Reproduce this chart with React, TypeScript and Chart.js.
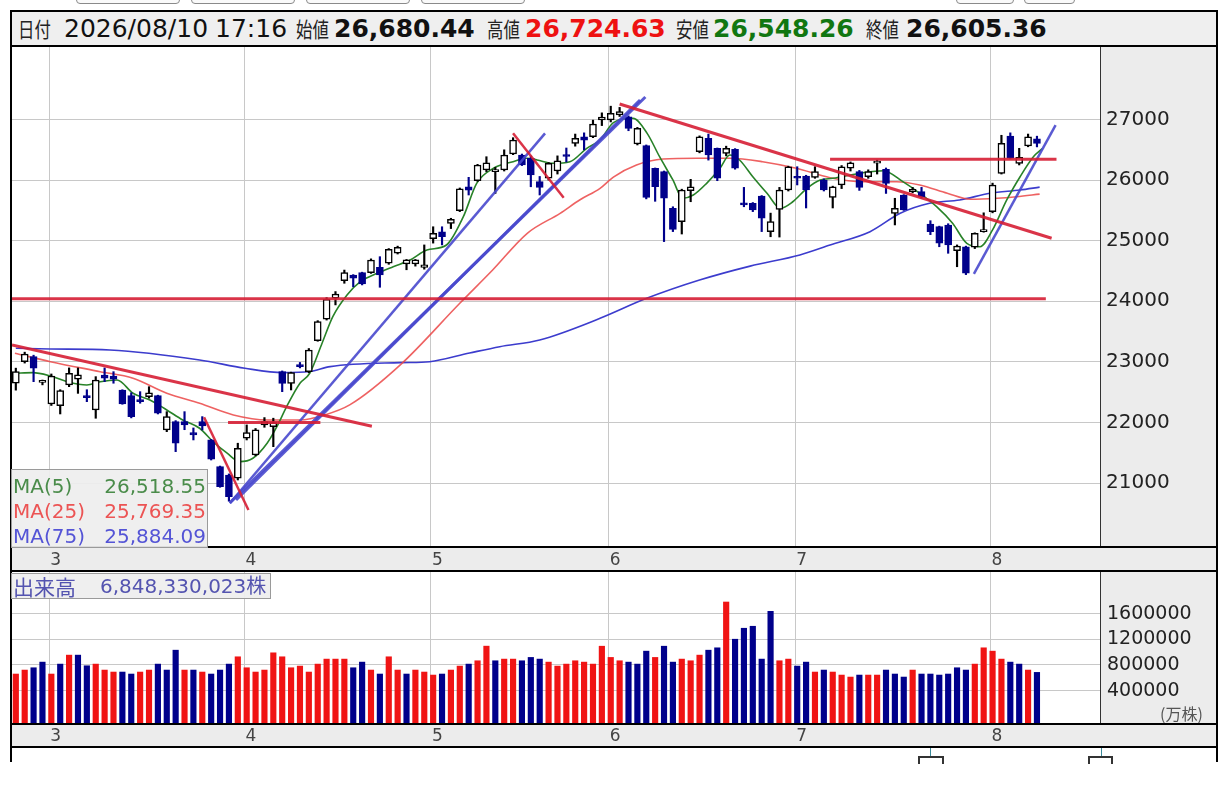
import React, { useEffect, useRef } from "react";
import { Chart, registerables } from "chart.js";

Chart.register(...registerables);

// ---------- data ----------
const OPEN = [22647, 23003, 23086, 22660, 22305, 22277, 22619, 22713, 22440, 22206, 22780, 22767, 22536, 22442, 22376, 22426, 22442, 21876, 22013, 22013, 21832, 22013, 21711, 21270, 21130, 21079, 21739, 21464, 21958, 21930, 22838, 22646, 22940, 22838, 23350, 23703, 24050, 24340, 24434, 24472, 24472, 24561, 24627, 24792, 24615, 24615, 24560, 25033, 25145, 25287, 25495, 25890, 25990, 26167, 26140, 26167, 26431, 26414, 26360, 25974, 26030, 26150, 26420, 26607, 26716, 26716, 26992, 26992, 27075, 27046, 26596, 26568, 26195, 26140, 25535, 25314, 25825, 26469, 26690, 26525, 26442, 26508, 25610, 25617, 25738, 25150, 25518, 25837, 26050, 26068, 26046, 26002, 25716, 25919, 26195, 26140, 26056, 26280, 26178, 25452, 25754, 25810, 25810, 25275, 25231, 25259, 24836, 24900, 24891, 25150, 25479, 26112, 26727, 26277, 26563, 26680];
const HIGH = [22896, 23160, 23110, 22700, 22800, 22540, 22900, 22900, 22540, 22756, 22900, 22838, 22540, 22490, 22508, 22590, 22450, 22178, 22030, 22178, 21909, 22096, 21720, 21280, 21150, 21657, 21959, 21900, 22080, 22070, 22850, 22830, 22990, 23220, 23680, 24060, 24160, 24515, 24440, 24480, 24700, 24736, 24870, 24910, 24690, 24690, 24930, 25230, 25230, 25370, 25870, 26046, 26260, 26386, 26210, 26500, 26700, 26430, 26400, 26060, 26290, 26400, 26530, 26760, 26780, 26990, 27110, 27220, 27200, 27060, 26870, 26580, 26200, 26150, 25560, 25850, 26013, 26730, 26760, 26530, 26560, 26520, 25880, 25630, 25745, 25455, 25880, 26230, 26221, 26080, 26221, 26020, 25900, 26240, 26300, 26160, 26170, 26330, 26200, 25700, 25760, 25880, 25880, 25330, 25240, 25280, 24930, 24910, 25130, 25460, 25950, 26740, 26780, 26525, 26760, 26725];
const LOW = [22533, 22980, 22673, 22620, 22280, 22140, 22590, 22480, 22343, 22069, 22673, 22647, 22300, 22075, 22317, 22400, 22140, 21848, 21518, 21880, 21711, 21876, 21380, 20930, 20700, 21050, 21711, 21450, 21920, 21600, 22508, 22536, 22900, 22820, 23340, 23690, 23940, 24297, 24240, 24270, 24460, 24231, 24610, 24780, 24520, 24580, 24530, 24960, 24930, 25200, 25480, 25754, 25980, 26140, 25780, 26150, 26420, 26240, 25890, 25754, 26000, 26100, 26300, 26560, 26500, 26700, 26900, 26960, 27050, 26815, 26580, 25690, 25650, 24985, 25150, 25110, 25643, 26450, 26330, 25990, 26400, 26180, 25560, 25480, 25150, 25065, 25060, 25820, 25920, 25540, 26030, 25820, 25540, 25860, 26150, 25830, 26030, 26100, 25780, 25260, 25500, 25790, 25700, 25100, 24900, 24792, 24570, 24440, 24870, 25140, 25460, 26100, 26350, 26250, 26550, 26548];
const CLOSE = [22838, 23130, 22894, 22680, 22767, 22525, 22812, 22784, 22410, 22701, 22730, 22713, 22305, 22096, 22343, 22490, 22152, 22096, 21657, 21958, 21793, 21942, 21393, 20940, 20775, 21574, 21832, 21876, 22013, 21997, 22646, 22822, 22920, 23196, 23663, 24033, 24120, 24472, 24380, 24285, 24681, 24434, 24858, 24891, 24682, 24682, 24600, 25122, 25065, 25353, 25858, 25835, 26249, 26287, 26150, 26414, 26662, 26249, 26084, 25880, 26277, 26320, 26390, 26690, 26660, 26926, 27040, 27102, 27130, 26855, 26855, 25716, 25890, 25700, 25188, 25837, 25890, 26716, 26414, 26030, 26525, 26195, 25590, 25507, 25370, 25315, 25837, 26221, 26030, 25837, 26140, 25837, 25890, 26221, 26287, 25880, 26140, 26300, 25947, 25535, 25507, 25848, 25726, 25149, 24957, 24929, 24913, 24462, 25122, 25170, 25919, 26607, 26360, 26376, 26716, 26605];

// volume in 万株
const VOLUME = [659000, 721000, 757000, 845000, 659000, 814000, 954000, 954000, 788000, 814000, 721000, 690000, 690000, 659000, 690000, 721000, 814000, 721000, 1031000, 721000, 721000, 690000, 659000, 721000, 814000, 928000, 757000, 690000, 721000, 990000, 928000, 757000, 783000, 690000, 814000, 892000, 892000, 892000, 757000, 845000, 721000, 659000, 928000, 721000, 659000, 721000, 690000, 643000, 659000, 721000, 783000, 814000, 866000, 1094000, 866000, 892000, 892000, 866000, 918000, 892000, 845000, 783000, 814000, 866000, 845000, 814000, 1093000, 918000, 866000, 845000, 814000, 1016000, 918000, 1093000, 845000, 892000, 866000, 954000, 1031000, 1068000, 1782000, 1202000, 1373000, 1404000, 892000, 1637000, 866000, 892000, 783000, 845000, 690000, 721000, 690000, 643000, 612000, 643000, 643000, 643000, 721000, 659000, 612000, 721000, 659000, 659000, 643000, 659000, 757000, 721000, 814000, 1068000, 1016000, 892000, 845000, 814000, 721000, 684833];
// R = rising (red), B = falling (navy)
const VOLUME_DIR = ("RRBBRBRBBR" + "RRBBRRBBBR" + "BRBBBRRRRR" + "RRRRRRRRBB" + "RBRRBRRRBR" + "RBRRBRRBB" + "BRRRRRRRRR" + "BBBRBBRRRB" + "BRBBBBBRRB" + "BRBRRRBRRB" + "BBRBBBBBBR" + "RRRBBRB").split("");

const MONTH_START = [4, 26, 47, 67, 88, 110];
const MONTH_LABEL = ["3", "4", "5", "6", "7", "8"];
const PRICE_TICKS = [21000, 22000, 23000, 24000, 25000, 26000, 27000];
const VOLUME_TICKS = [400000, 800000, 1200000, 1600000];

const MA5_X = [-0.1, 1.9, 3.9, 5.8, 8.0, 9.5, 11.4, 13.2, 15.1, 17.0, 18.8, 20.7, 22.2, 23.8, 25.2, 26.7, 28.3, 29.4, 30.5, 32.0, 33.1, 34.5, 35.7, 37.3, 38.8, 40.7, 42.5, 44.4, 46.3, 48.5, 50.4, 51.9, 53.8, 56.0, 57.5, 58.7, 60.5, 62.4, 64.3, 65.8, 67.3, 69.5, 71.1, 72.5, 74.0, 75.1, 76.3, 77.8, 79.3, 80.4, 81.5, 83.0, 84.6, 86.1, 87.5, 89.1, 90.6, 92.0, 95.4, 97.7, 99.9, 101.8, 103.7, 105.5, 107.1, 108.6, 110.0, 111.6, 113.1, 114.6, 115.6];
const MA5_Y = [22812, 22822, 22767, 22673, 22619, 22673, 22701, 22482, 22371, 22206, 22041, 21904, 21683, 21492, 21353, 21409, 21657, 21930, 22261, 22647, 22812, 23312, 23746, 24104, 24324, 24462, 24571, 24681, 24846, 24929, 25396, 25947, 26195, 26304, 26360, 26332, 26277, 26304, 26525, 26662, 26950, 27020, 26772, 26386, 26002, 25700, 25754, 25947, 26195, 26414, 26332, 26056, 25782, 25535, 25643, 25865, 26002, 26030, 26122, 26155, 25974, 25782, 25561, 25287, 24957, 24901, 25177, 25672, 26056, 26386, 26519];
const MA25_X = [-0.1, 3.9, 9.5, 13.2, 17.0, 20.7, 24.5, 28.3, 32.0, 34.8, 37.6, 43.3, 50.0, 53.7, 57.6, 61.3, 63.5, 65.8, 67.3, 69.9, 72.9, 76.7, 80.4, 84.1, 87.9, 91.7, 95.4, 99.2, 101.8, 104.9, 107.5, 110.5, 112.7, 115.3];
const MA25_Y = [23142, 23003, 22838, 22729, 22482, 22317, 22124, 22041, 22041, 22124, 22289, 22950, 23967, 24516, 25122, 25452, 25672, 25865, 26050, 26250, 26348, 26360, 26360, 26304, 26195, 26040, 25974, 25974, 25919, 25782, 25683, 25700, 25726, 25769];
const MA75_X = [0, 3.9, 10.6, 20.7, 25.8, 30.1, 33.1, 35.4, 43.3, 46.6, 51.1, 54.5, 59.0, 65.8, 70.9, 77.0, 82.7, 88.3, 91.7, 96.2, 99.6, 102.9, 106.3, 109.7, 113.1, 115.3];
const MA75_Y = [23224, 23213, 23196, 23031, 22894, 22822, 22840, 22921, 22987, 23003, 23146, 23250, 23361, 23719, 24040, 24350, 24580, 24765, 24929, 25149, 25452, 25617, 25672, 25782, 25837, 25884];

// drawn trend lines: [startIndex, startPrice, endIndex, endPrice]
const RED_LINES = [
  [-0.43, 24040, 116.0, 24040],
  [-0.43, 23279, 40.1, 21938],
  [23.9, 21997, 34.3, 21997],
  [21.2, 22086, 26.2, 20556],
  [56.0, 26772, 61.7, 25710],
  [68.0, 27256, 116.65, 25040],
  [91.7, 26343, 117.2, 26343],
];
const BLUE_LINES = [
  [24.1, 20667, 59.6, 26772],
  [24.1, 20672, 70.9, 27371],
  [24.8, 20721, 70.3, 27322],
  [107.9, 24451, 117.1, 26909],
];

// ---------- style ----------
const FONT = '"DejaVu Sans", "Noto Sans CJK JP", sans-serif';
const CJK = '"Noto Sans CJK JP", sans-serif';
const NAVY = "#00008b";
const VOL_RED = "#f01414";
const X_MIN = -0.43;
const X_MAX = 122.1;
const GRID = "#c8c8c8";

function framePlugin(id: string) {
  return {
    id,
    beforeDraw(chart: any) {
      const { ctx, chartArea: a, width, height } = chart;
      ctx.save();
      ctx.fillStyle = "#ececec";
      ctx.fillRect(0, 0, width, height);
      ctx.fillStyle = "#ffffff";
      ctx.fillRect(a.left, a.top, a.right - a.left, a.bottom - a.top);
      ctx.restore();
    },
    beforeDatasetsDraw(chart: any) {
      const { ctx, chartArea: a, scales } = chart;
      ctx.save();
      ctx.strokeStyle = GRID;
      ctx.lineWidth = 1;
      MONTH_START.forEach((m) => {
        const px = Math.round(scales.x.getPixelForValue(m - 0.3)) + 0.5;
        ctx.beginPath();
        ctx.moveTo(px, a.top);
        ctx.lineTo(px, a.bottom);
        ctx.stroke();
      });
      ctx.restore();
    },
    afterDraw(chart: any) {
      const { ctx, chartArea: a, width, height, scales } = chart;
      ctx.save();
      ctx.fillStyle = "#444";
      ctx.font = `17px ${FONT}`;
      ctx.textAlign = "center";
      ctx.textBaseline = "middle";
      const yMid = (a.bottom + height) / 2 + 1;
      MONTH_START.forEach((m, k) => {
        ctx.fillText(MONTH_LABEL[k], scales.x.getPixelForValue(m - 0.3) + 7, yMid);
      });
      ctx.fillStyle = "#000";
      ctx.fillRect(0, 0, 2, height);
      ctx.fillRect(width - 2, 0, 2, height);
      ctx.fillRect(0, a.bottom - 1, width, 2);
      ctx.fillRect(0, height - 2, width, 2);
      ctx.restore();
    },
  };
}

const xScale = {
  type: "linear" as const,
  min: X_MIN,
  max: X_MAX,
  offset: false,
  display: false,
};

const fitAxis = (s: any) => {
  s.width = 118;
  s.paddingTop = 0;
  s.paddingBottom = 0;
};

export default function App() {
  const mainRef = useRef<HTMLCanvasElement>(null);
  const volRef = useRef<HTMLCanvasElement>(null);

  useEffect(() => {
    const up = CLOSE.map((c, i) => c >= OPEN[i]);
    const trend = (lines: number[][], color: string, widths: number[]) =>
      lines.map((l, k) => ({
        type: "line" as const,
        data: [
          { x: l[0], y: l[1] },
          { x: l[2], y: l[3] },
        ],
        borderColor: color,
        borderWidth: widths[k] ?? 3,
        pointRadius: 0,
        tension: 0,
        order: 0,
      }));
    const maLine = (xs: number[], ys: number[], color: string) => ({
      type: "line" as const,
      data: xs.map((x, k) => ({ x, y: ys[k] })),
      borderColor: color,
      borderWidth: 1.6,
      pointRadius: 0,
      cubicInterpolationMode: "monotone" as const,
      order: 3,
    });

    const main = new Chart(mainRef.current!, {
      type: "bar",
      data: {
        datasets: [
          ...trend(RED_LINES, "rgba(214,30,52,0.9)", [3, 3, 3, 2.5, 2.5, 3, 3]),
          ...trend(BLUE_LINES, "rgba(72,72,205,0.9)", [2.5, 3, 3, 2.5]),
          {
            type: "bar",
            data: OPEN.map((o, i) => ({ x: i, y: [o, CLOSE[i]] })) as any,
            backgroundColor: up.map((u) => (u ? "#ffffff" : NAVY)),
            borderColor: up.map((u) => (u ? "#000000" : NAVY)),
            borderWidth: 1.5,
            borderSkipped: false,
            barThickness: 7,
            minBarLength: 2,
            grouped: false,
            order: 1,
          } as any,
          {
            type: "bar",
            data: LOW.map((l, i) => ({ x: i, y: [l, HIGH[i]] })) as any,
            backgroundColor: up.map((u) => (u ? "#000000" : NAVY)),
            borderWidth: 0,
            barThickness: 1.5,
            grouped: false,
            order: 2,
          } as any,
          maLine(MA5_X, MA5_Y, "rgb(40,130,40)"),
          maLine(MA25_X, MA25_Y, "rgba(235,70,70,0.85)"),
          maLine(MA75_X, MA75_Y, "rgb(60,60,205)"),
        ] as any,
      },
      options: {
        responsive: false,
        animation: false,
        events: [],
        layout: { padding: { left: 2, right: 0, top: 0, bottom: 25 } },
        plugins: { legend: { display: false }, tooltip: { enabled: false } },
        scales: {
          x: xScale,
          y: {
            type: "linear",
            position: "right",
            min: 19944,
            max: 28197,
            afterBuildTicks: (s: any) => {
              s.ticks = PRICE_TICKS.map((v) => ({ value: v }));
            },
            afterFit: fitAxis,
            grid: { color: GRID, lineWidth: 1, drawTicks: false },
            border: { display: true, color: "#333", width: 1 },
            ticks: {
              padding: 6,
              color: "#222",
              font: { family: FONT, size: 20 },
              callback: (v: any) => String(v),
            },
          },
        },
      },
      plugins: [framePlugin("mainFrame")],
    });

    const vol = new Chart(volRef.current!, {
      type: "bar",
      data: {
        datasets: [
          {
            data: VOLUME.map((v, i) => ({ x: i, y: v })) as any,
            backgroundColor: VOLUME_DIR.map((d) => (d === "R" ? VOL_RED : NAVY)),
            barThickness: 5.5,
            base: -120000,
            borderWidth: 0,
          } as any,
        ],
      },
      options: {
        responsive: false,
        animation: false,
        events: [],
        layout: { padding: { left: 2, right: 0, top: 0, bottom: 24 } },
        plugins: { legend: { display: false }, tooltip: { enabled: false } },
        scales: {
          x: xScale,
          y: {
            type: "linear",
            position: "right",
            min: -120000,
            max: 2250000,
            afterBuildTicks: (s: any) => {
              s.ticks = VOLUME_TICKS.map((v) => ({ value: v }));
            },
            afterFit: fitAxis,
            grid: { color: GRID, lineWidth: 1, drawTicks: false },
            border: { display: true, color: "#333", width: 1 },
            ticks: {
              padding: 7,
              color: "#222",
              font: { family: FONT, size: 19 },
              callback: (v: any) => String(v),
            },
          },
        },
      },
      plugins: [framePlugin("volFrame")],
    });

    return () => {
      main.destroy();
      vol.destroy();
    };
  }, []);

  const cjkLabel = (text: string, left: number) => (
    <span
      style={{
        position: "absolute",
        left,
        top: 0,
        lineHeight: "33px",
        fontFamily: CJK,
        fontSize: 21,
        color: "#222",
        transform: "scaleX(0.78)",
        transformOrigin: "left center",
        whiteSpace: "nowrap",
      }}
    >
      {text}
    </span>
  );
  const num = (text: string, left: number, color: string, bold: boolean) => (
    <span
      style={{
        position: "absolute",
        left,
        top: 0,
        lineHeight: "33px",
        fontFamily: FONT,
        fontSize: 25,
        fontWeight: bold ? 700 : 400,
        color,
        whiteSpace: "nowrap",
      }}
    >
      {text}
    </span>
  );
  const tab = (left: number, width: number) => (
    <div
      key={left}
      style={{
        position: "absolute",
        left,
        top: -10,
        width,
        height: 14,
        boxSizing: "border-box",
        border: "1.5px solid #8a8a8a",
        borderRadius: 4,
        background: "#fafafa",
      }}
    />
  );
  const maRow = (label: string, value: string, color: string, top: number) => (
    <React.Fragment key={label}>
      <span style={{ position: "absolute", left: 13, top, lineHeight: "25px", fontFamily: FONT, fontSize: 20, color }}>{label}</span>
      <span style={{ position: "absolute", left: 60, width: 146, textAlign: "right", top, lineHeight: "25px", fontFamily: FONT, fontSize: 20, color }}>{value}</span>
    </React.Fragment>
  );

  return (
    <div style={{ position: "absolute", left: 0, top: 0, width: 1228, height: 787, background: "#fff", overflow: "hidden" }}>
      {[tab(76, 104), tab(191, 104), tab(306, 104), tab(421, 104), tab(956, 58), tab(1024, 51)]}
      <div
        style={{
          position: "absolute",
          left: 10,
          top: 10,
          width: 1208,
          height: 37,
          boxSizing: "border-box",
          border: "2px solid #000",
          background: "#efefef",
        }}
      >
        <div style={{ position: "absolute", left: -10, top: 0, width: 1208, height: 33 }}>
          {cjkLabel("日付", 16)}
          {num("2026/08/10", 62, "#111", false)}
          {num("17:16", 213, "#111", false)}
          {cjkLabel("始値", 294)}
          {num("26,680.44", 332, "#111", true)}
          {cjkLabel("高値", 485)}
          {num("26,724.63", 523, "#ee1111", true)}
          {cjkLabel("安値", 674)}
          {num("26,548.26", 711, "#117711", true)}
          {cjkLabel("終値", 864)}
          {num("26,605.36", 904, "#111", true)}
        </div>
      </div>
      <canvas ref={mainRef} width={1208} height={525} style={{ position: "absolute", left: 10, top: 47, width: 1208, height: 525 }} />
      <canvas ref={volRef} width={1208} height={176} style={{ position: "absolute", left: 10, top: 572, width: 1208, height: 176 }} />

      {/* MA legend */}
      <div
        style={{
          position: "absolute",
          left: 11,
          top: 469,
          width: 197,
          height: 79,
          boxSizing: "border-box",
          border: "1.5px solid #9a9a9a",
          background: "rgba(238,238,238,0.92)",
        }}
      />
      {maRow("MA(5)", "26,518.55", "rgb(74,140,74)", 474)}
      {maRow("MA(25)", "25,769.35", "rgb(236,84,84)", 499)}
      {maRow("MA(75)", "25,884.09", "rgb(84,84,214)", 524)}

      {/* volume label */}
      <div
        style={{
          position: "absolute",
          left: 11,
          top: 573,
          width: 260,
          height: 26,
          boxSizing: "border-box",
          border: "1.5px solid #9a9a9a",
          background: "rgba(238,238,238,0.95)",
        }}
      />
      <span style={{ position: "absolute", left: 13, top: 573, lineHeight: "26px", fontFamily: CJK, fontSize: 21, color: "rgb(84,84,176)" }}>出来高</span>
      <span style={{ position: "absolute", left: 100, top: 573, lineHeight: "26px", fontFamily: FONT, fontSize: 20, color: "rgb(84,84,176)" }}>6,848,330,023株</span>
      <span style={{ position: "absolute", left: 1160, top: 703, lineHeight: "20px", fontFamily: CJK, fontSize: 16, color: "#555" }}>(万株)</span>

      {/* bottom strip */}
      <div style={{ position: "absolute", left: 10, top: 748, width: 2, height: 14, background: "#000" }} />
      <div style={{ position: "absolute", left: 1216, top: 748, width: 2, height: 14, background: "#000" }} />
      <div style={{ position: "absolute", left: 930, top: 748, width: 1, height: 9, background: "#3a8a9a" }} />
      <div style={{ position: "absolute", left: 918, top: 756, width: 26, height: 8, boxSizing: "border-box", border: "2px solid #333", borderBottom: "none" }} />
      <div style={{ position: "absolute", left: 1101, top: 748, width: 1, height: 9, background: "#3a8a9a" }} />
      <div style={{ position: "absolute", left: 1088, top: 756, width: 25, height: 8, boxSizing: "border-box", border: "2px solid #333", borderBottom: "none" }} />
    </div>
  );
}
